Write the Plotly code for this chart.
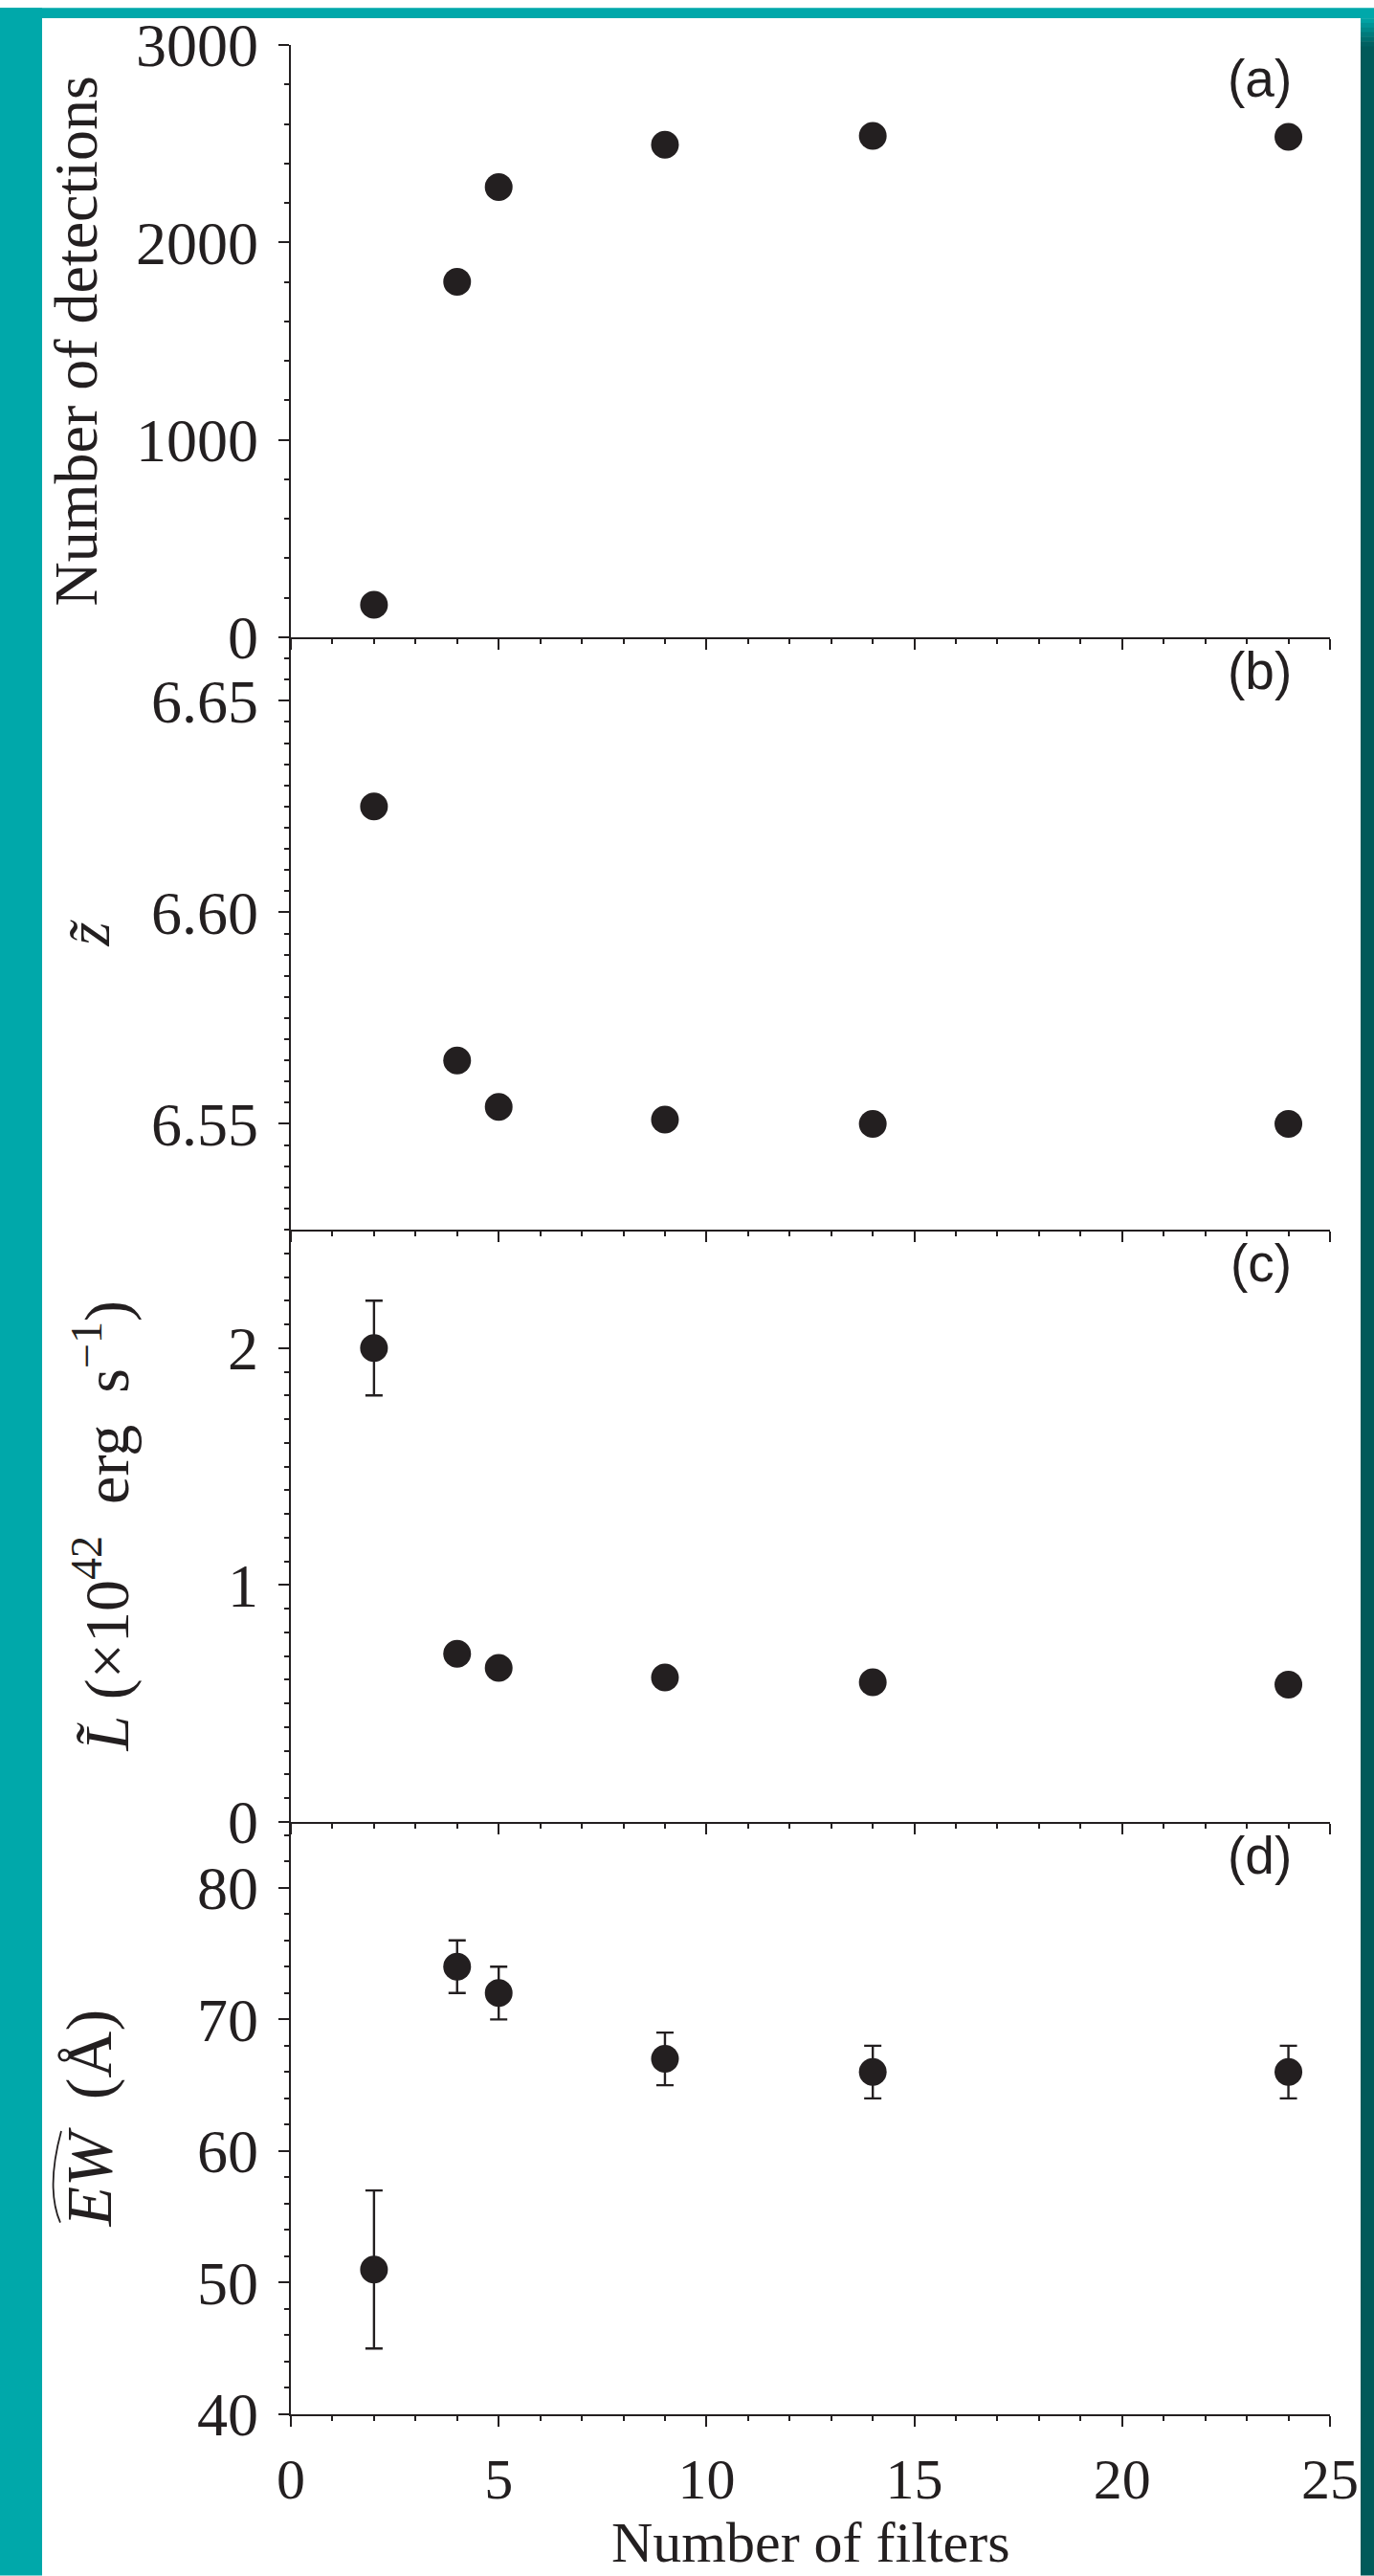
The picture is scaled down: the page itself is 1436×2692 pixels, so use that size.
import plotly.graph_objects as go

# ---- data -------------------------------------------------------------
n_filters = [2, 4, 5, 9, 14, 24]

detections = [165, 1800, 2280, 2495, 2540, 2535]

z_median = [6.625, 6.565, 6.554, 6.551, 6.550, 6.550]

lum_median = [2.0, 0.71, 0.65, 0.61, 0.59, 0.58]
lum_err = [0.2, 0, 0, 0, 0, 0]

ew_median = [51, 74, 72, 67, 66, 66]
ew_err = [6, 2, 2, 2, 2, 2]

panel_tags = ["(a)", "(b)", "(c)", "(d)"]

# ---- styling ----------------------------------------------------------
INK = "#231f20"
TEAL = (0, 168, 170)
DARK_TEAL = (0, 90, 90)
SERIF = "Liberation Serif, Times New Roman, serif"
SANS = "Liberation Sans, Arial, sans-serif"

W, H = 1436, 2692
ML, MR, MT, MB = 304, 46, 39, 169
PW = W - ML - MR
PH = H - MT - MB


def px(x):
    return (x - ML) / PW


def py(y):
    return (H - MB - y) / PH


def ax_id(k):
    return "" if k == 1 else str(k)


panels = [
    dict(y=detections, err=None, rng=[0, 3000], dtick=1000, minor=200, fmt="d",
         title="Number of detections", tx=79, tsize=64),
    dict(y=z_median, err=None, rng=[6.525, 6.665], dtick=0.05, minor=0.005, fmt=".2f",
         title="<i>z\u0303</i>", tx=92, tsize=64),
    dict(y=lum_median, err=lum_err, rng=[0, 2.5], dtick=1, minor=0.1, fmt="d",
         title="<i>L\u0303</i> (\u00d710<sup>42</sup>  erg  s<sup>\u22121</sup>)", tx=107, tsize=66),
    dict(y=ew_median, err=ew_err, rng=[40, 85], dtick=10, minor=2, fmt="d",
         title="<i>EW</i>  (\u00c5)", tx=92, tsize=68),
]

fig = go.Figure()
layout = dict(
    width=W, height=H,
    margin=dict(l=ML, r=MR, t=MT, b=MB, pad=0),
    paper_bgcolor="white", plot_bgcolor="rgba(0,0,0,0)",
    showlegend=False,
    font=dict(family=SERIF, color=INK, size=64),
)

ytick_font = dict(family=SERIF, size=64, color=INK)
xtick_font = dict(family=SERIF, size=60, color=INK)
annotations = []

for i, p in enumerate(panels):
    k = i + 1
    a = ax_id(k)
    r = str(k + 4)
    dom = [1 - (i + 1) * 0.25, 1 - i * 0.25]
    trace = dict(
        x=n_filters, y=p["y"], mode="markers",
        marker=dict(size=29, color=INK, line=dict(width=0)),
        xaxis="x" + a, yaxis="y" + a,
        cliponaxis=False,
    )
    if p["err"] is not None:
        trace["error_y"] = dict(type="data", array=p["err"], visible=True,
                                color=INK, thickness=2.4, width=9)
    fig.add_trace(go.Scatter(**trace))

    last = (k == 4)
    layout["xaxis" + a] = dict(
        domain=[0, 1], anchor="y" + a, range=[0, 25],
        tickmode="linear", tick0=0, dtick=5,
        ticks="outside", ticklen=11, tickwidth=2.2, tickcolor=INK,
        minor=dict(dtick=1, ticks="outside", ticklen=5, tickwidth=2.2, tickcolor=INK),
        showline=True, linewidth=2.4, linecolor=INK,
        showgrid=False, zeroline=False,
        showticklabels=last, tickfont=xtick_font,
        ticklabelstandoff=3,
    )
    layout["yaxis" + a] = dict(
        domain=dom, anchor="x" + a, range=p["rng"],
        tickmode="linear", tick0=0, dtick=p["dtick"], tickformat=p["fmt"],
        ticks="outside", ticklen=11, tickwidth=2.2, tickcolor=INK,
        minor=dict(dtick=p["minor"], ticks="outside", ticklen=5, tickwidth=2.2, tickcolor=INK),
        showline=True, linewidth=2.4, linecolor=INK,
        showgrid=False, zeroline=False,
        tickfont=ytick_font, ticklabelstandoff=8,
    )
    # right-hand frame with inward ticks
    layout["yaxis" + r] = dict(
        overlaying="y" + a, anchor="x" + a, side="right", range=p["rng"],
        tickmode="linear", tick0=0, dtick=p["dtick"],
        ticks="inside", ticklen=11, tickwidth=2.2, tickcolor=INK,
        minor=dict(dtick=p["minor"], ticks="inside", ticklen=6, tickwidth=2.2, tickcolor=INK),
        showline=True, linewidth=2.4, linecolor=INK,
        showgrid=False, zeroline=False, showticklabels=False,
    )

    # y-axis title
    annotations.append(dict(
        text=p["title"], xref="paper", yref="paper",
        x=px(p["tx"]), y=(dom[0] + dom[1]) / 2,
        xanchor="center", yanchor="middle", textangle=-90, showarrow=False,
        font=dict(family=SERIF, size=p["tsize"], color=INK),
    ))
    # panel tag
    annotations.append(dict(
        text=panel_tags[i], xref="x" + a + " domain", yref="y" + a + " domain",
        x=px(1352), y=1 - 35 / (PH / 4),
        xanchor="right", yanchor="middle", showarrow=False,
        font=dict(family=SANS, size=55, color=INK),
    ))

# top frame of the first panel with inward ticks
layout["xaxis9"] = dict(
    overlaying="x", anchor="y", side="top", range=[0, 25],
    tickmode="linear", tick0=0, dtick=5,
    ticks="inside", ticklen=10, tickwidth=2.2, tickcolor=INK,
    minor=dict(dtick=1, ticks="inside", ticklen=5, tickwidth=2.2, tickcolor=INK),
    showline=True, linewidth=2.4, linecolor=INK,
    showgrid=False, zeroline=False, showticklabels=False,
)

annotations.append(dict(
    text="Number of filters", xref="paper", yref="paper",
    x=0.5, y=py(2657), xanchor="center", yanchor="middle", showarrow=False,
    font=dict(family=SERIF, size=60, color=INK),
))


def rgb(c):
    return f"rgb({c[0]},{c[1]},{c[2]})"


# wide tilde over "EW" in the last y-axis title
def P(x, y):
    return f"{px(x):.5f},{py(y):.5f}"


shapes = [
    dict(type="path", xref="paper", yref="paper",
         path=f"M {P(63, 2322)} C {P(50, 2292)} {P(57, 2252)} {P(64, 2226)}",
         line=dict(color=INK, width=1.8), layer="above"),
]

# page frame: teal bands around the figure
shapes += [
    dict(type="rect", xref="paper", yref="paper", x0=px(0), x1=px(44), y0=py(H), y1=py(0),
         fillcolor=rgb(TEAL), line=dict(width=0), layer="above"),
    dict(type="rect", xref="paper", yref="paper", x0=px(0), x1=px(W), y0=py(11), y1=py(0),
         fillcolor=rgb(TEAL), line=dict(width=0), layer="above"),
    dict(type="rect", xref="paper", yref="paper", x0=px(1422), x1=px(W), y0=py(H), y1=py(40),
         fillcolor=rgb(DARK_TEAL), line=dict(width=0), layer="above"),
]
steps = 6
for s in range(steps):
    t = (s + 0.5) / steps
    c = tuple(round(TEAL[j] + (DARK_TEAL[j] - TEAL[j]) * t) for j in range(3))
    y0 = 11 + s * (29 / steps)
    shapes.append(dict(type="rect", xref="paper", yref="paper",
                       x0=px(1422), x1=px(W), y0=py(y0 + 29 / steps + 0.5), y1=py(y0),
                       fillcolor=rgb(c), line=dict(width=0), layer="above"))

layout["annotations"] = annotations
layout["shapes"] = shapes
fig.update_layout(**layout)

fig.write_html("out.html")
